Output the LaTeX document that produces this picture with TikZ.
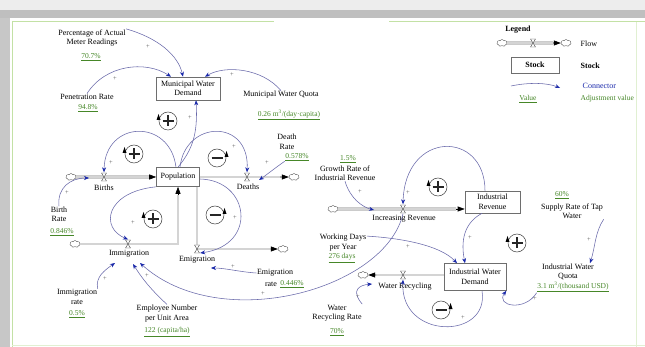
\documentclass[tikz,border=0pt]{standalone}
\usepackage{fontspec}
\setmainfont{Liberation Serif}
\usetikzlibrary{arrows.meta,shapes.symbols}
\definecolor{conncol}{RGB}{105,105,170}
\definecolor{arrcol}{RGB}{25,40,170}
\definecolor{valcol}{RGB}{70,135,40}
\definecolor{framegreen}{RGB}{195,225,165}
\definecolor{pipeedge}{RGB}{110,110,110}
\definecolor{pipefill}{RGB}{212,212,212}
\begin{document}
\begin{tikzpicture}[x=1pt,y=-1pt,
 lbl/.style={font=\fontsize{8}{9.5}\selectfont, align=center, inner sep=0.5pt, text=black},
 valtxt/.style={font=\fontsize{7.5}{9}\selectfont, text=valcol, inner sep=0.5pt},
 stockbox/.style={draw=pipeedge, line width=0.6pt, fill=white, align=center, font=\fontsize{8}{9.5}\selectfont, inner sep=1pt},
 conn/.style={draw=conncol, line width=0.55pt, -{Stealth[length=5pt,width=4pt,color=arrcol]}},
 sgn/.style={font=\fontsize{6.5}{6.5}\selectfont, text=black!65, inner sep=0pt},
 pipe/.style={draw=pipeedge, double=pipefill, double distance=1.8pt, line width=0.5pt},
 pipetip/.style={-{Triangle[length=7pt,width=5pt,color=black]}, draw=black, line width=0.6pt},
 cloudnode/.style={cloud, cloud puffs=7, cloud puff arc=110, aspect=1.5, draw=black!70, fill=white, line width=0.4pt, minimum width=10pt, minimum height=7pt, inner sep=0pt},
 valvebox/.style={inner sep=0pt, minimum width=6pt, minimum height=9pt},
 valvep/.pic={\draw[black!70, line width=0.4pt, fill=white] (-2.5,-4) -- (2.5,-4) -- (-2.5,4) -- (2.5,4) -- cycle;},
 lpos/.pic={
   \draw[black!75, line width=0.5pt] (0,0) circle[radius=9];
   \draw[black!85, line width=1.3pt] (-5.5,0) -- (5.5,0) (0,-5.5) -- (0,5.5);
   \fill[black] (-9.5,-7) -- (-11.5,-1) -- (-7.5,-1) -- cycle;},
 lneg/.pic={
   \draw[black!75, line width=0.5pt] (0,0) circle[radius=9];
   \draw[black!85, line width=1.3pt] (-5.5,0) -- (5.5,0);
   \fill[black] (9.5,-7) -- (7.5,-1) -- (11.5,-1) -- cycle;}
]
\useasboundingbox (0,0) rectangle (645,347);
% ---------- frame ----------
\fill[white] (0,0) rectangle (645,347);
\fill[black!7] (0,0) rectangle (645,10);
\fill[black!25] (0,10) rectangle (645,18);
\fill[black!22] (0,18) rectangle (10,347);
\draw[framegreen, line width=1pt] (12,22) -- (274,22) (389,22) -- (645,22) (12,22) -- (12,347);
\draw[framegreen!50, line width=0.8pt] (636,22) -- (636,347) (12,345) -- (645,345);

% ---------- stocks ----------
\node[stockbox, minimum width=64pt, minimum height=23pt] (mwd) at (188,88.5) {Municipal Water\\Demand};
\node[stockbox, minimum width=43pt, minimum height=19pt] (pop) at (178,177) {Population};
\node[stockbox, minimum width=55pt, minimum height=22pt] (ir) at (492.5,202) {Industrial\\Revenue};
\node[stockbox, minimum width=62pt, minimum height=27pt] (iwd) at (475,277) {Industrial Water\\Demand};
\node[stockbox, minimum width=48pt, minimum height=16pt, font=\fontsize{8}{9.5}\selectfont\bfseries] (legstock) at (535,65) {Stock};

% ---------- valves (invisible anchors) ----------
\node[valvebox] (vbir) at (104,177) {};
\node[valvebox] (vdea) at (247,177) {};
\node[valvebox] (vimm) at (128,244) {};
\node[valvebox] (vemi) at (197,249) {};
\node[valvebox] (vinc) at (403,209) {};
\node[valvebox] (vrec) at (403,275) {};
\node[valvebox] (vleg) at (533,43) {};

% ---------- clouds ----------
\node[cloudnode] (cbir) at (71,177) {};
\node[cloudnode] (cdea) at (294,177) {};
\node[cloudnode] (cimm) at (75,244) {};
\node[cloudnode] (cemi) at (283,249) {};
\node[cloudnode] (cinc) at (333,209) {};
\node[cloudnode] (crec) at (363,275) {};
\node[cloudnode] (cl1) at (502,43) {};
\node[cloudnode] (cl2) at (566,43) {};

% ---------- pipes ----------
\coordinate (birtip) at (149,177);
\draw[pipe] (cbir.east) -- (birtip);
\draw[pipetip] (birtip) -- (pop.west);
\coordinate (deatip) at (280,177);
\draw[pipe] (pop.east) -- (deatip);
\draw[pipetip] (deatip) -- (cdea.west);
\coordinate (immtip) at (178,195);
\draw[pipe] (cimm.east) -| (immtip);
\draw[pipetip] (immtip) -- (pop.south);
\coordinate (emitip) at (272,249);
\draw[pipe] (pop.south -| vemi) |- (emitip);
\draw[pipetip] (emitip) -- (cemi.west);
\coordinate (inctip) at (456,209);
\draw[pipe] (cinc.east) -- (inctip);
\draw[pipetip] (inctip) -- (ir.west |- inctip);
\coordinate (rectip) at (376,275);
\draw[pipe] (iwd.west |- vrec) -- (rectip);
\draw[pipetip] (rectip) -- (crec.east);
\coordinate (legtip) at (553,43);
\draw[pipe] (cl1.east) -- (legtip);
\draw[pipetip] (legtip) -- (cl2.west);
\foreach \v in {vbir,vdea,vimm,vemi,vinc,vrec,vleg} \pic at (\v) {valvep};

% ---------- flow labels ----------
\node[lbl] (lbir) at (104,188) {Births};
\node[lbl] (ldea) at (248,187) {Deaths};
\node[lbl] (limm) at (129,254) {Immigration};
\node[lbl] (lemi) at (197,260) {Emigration};
\node[lbl] (linc) at (404,219) {Increasing Revenue};
\node[lbl] (lrec) at (405,287) {Water Recycling};

% ---------- auxiliary variables ----------
\node[lbl] (pam) at (92,38) {Percentage of Actual\\Meter Readings};
\node[valtxt] (pamv) at (91,57) {\underline{70.7\%}};
\node[lbl] (pr) at (87,97) {Penetration Rate};
\node[valtxt] (prv) at (88,108) {\underline{94.8\%}};
\node[lbl] (mwq) at (281,95) {Municipal Water Quota};
\node[valtxt] (mwqv) at (289,115) {\underline{0.26 m\textsuperscript{3}/(day·capita)}};
\node[lbl] (br) at (59,214.5) {Birth\\Rate};
\node[valtxt] (brv) at (62,232) {\underline{0.846\%}};
\node[lbl] (dr) at (287,142) {Death\\Rate};
\node[valtxt] (drv) at (297,157) {\underline{0.578\%}};
\node[lbl] (emr) at (275,273) {Emigration};
\node[lbl] (emr2) at (271,284) {rate};
\node[valtxt] (emrv) at (292,284) {\underline{0.446\%}};
\node[lbl] (imr) at (77,297) {Immigration\\rate};
\node[valtxt] (imrv) at (77,314) {\underline{0.5\%}};
\node[lbl] (emp) at (167,313.5) {Employee Number\\per Unit Area};
\node[valtxt] (empv) at (167,332) {\underline{122 (capita/ha)}};
\node[valtxt] (griv) at (348,159) {\underline{1.5\%}};
\node[lbl] (gri) at (345,173) {Growth Rate of\\Industrial Revenue};
\node[lbl] (wd) at (343,242.5) {Working Days\\per Year};
\node[valtxt] (wdv) at (342,258) {\underline{276 days}};
\node[lbl] (wrr) at (337,313) {Water\\Recycling Rate};
\node[valtxt] (wrrv) at (337,332) {\underline{70\%}};
\node[valtxt] (srv) at (562,195) {\underline{60\%}};
\node[lbl] (sr) at (572,211) {Supply Rate of Tap\\Water};
\node[lbl] (iwq) at (568,272) {Industrial Water\\Quota};
\node[valtxt] (iwqv) at (573,287) {\underline{3.1 m\textsuperscript{3}/(thousand USD)}};

% ---------- connectors ----------
\coordinate (brend) at (89,178);
\coordinate (imrend) at (115,263);
\coordinate (empend) at (133,264);
\coordinate (invend) at (140,263);
\coordinate (griend) at (374,210);
\coordinate (wrrend) at (372,284);
\coordinate (drend) at (259,180);
\coordinate (emrend) at (211,268);
\draw[conn] (pam.15) .. controls (158,38) and (178,55) .. (mwd.north -| 183,0);
\draw[conn] (pr.north) .. controls (105,65) and (145,60) .. (mwd.north -| 171,0);
\draw[conn] (mwq.north) .. controls (262,68) and (225,65) .. (mwd.north -| 205,0);
\draw[conn] (pop.north) .. controls (192,150) and (198,135) .. (mwd.south -| 196,0);
\draw[conn] (pop.north -| 176,0) .. controls (170,118) and (105,120) .. (vbir.north);
\draw[conn] (pop.north -| 180,0) .. controls (185,120) and (250,118) .. (vdea.north);
\draw[conn] (pop.east |- 0,179) .. controls (250,180) and (258,245) .. (vemi.east |- 0,253) ;
\draw[conn] (pop.south west) .. controls (105,192) and (100,228) .. (vimm.north);
\draw[conn] (br.north) .. controls (57,188) and (70,178) .. (brend);
\draw[conn] (drv.south west) .. controls (275,168) and (265,176) .. (drend);
\draw[conn] (emr.west) .. controls (240,272) and (225,268) .. (emrend);
\draw[conn] (imr.north east) .. controls (95,277) and (105,270) .. (imrend);
\draw[conn] (emp.north) .. controls (148,287) and (140,275) .. (empend);
\draw[conn] (vinc.south) .. controls (385,290) and (220,335) .. (invend);
\draw[conn] (gri.south) .. controls (350,198) and (362,207) .. (griend);
\draw[conn] (ir.north -| 485,0) .. controls (485,130) and (405,130) .. (vinc.north);
\draw[conn] (wd.15) .. controls (400,238) and (440,245) .. (iwd.north -| 457,0);
\draw[conn] (ir.south -| 482,0) .. controls (460,225) and (462,248) .. (iwd.north -| 465,0);
\draw[conn] (sr.south east) .. controls (595,232) and (595,248) .. (iwq.north -| 590,0);
\draw[conn] (iwqv.south west) .. controls (525,312) and (495,306) .. (iwd.south east);
\draw[conn] (iwd.south -| 482,0) .. controls (490,340) and (400,340) .. (vrec.south);
\draw[conn] (wrr.north east) .. controls (350,290) and (360,285) .. (wrrend);

% ---------- polarity signs ----------
\foreach \p in {(148,47),(115,79),(232,75),(190,118),(111,163),(234,147),(67,193),(267,163),
  (133,223),(235,218),(233,267),(105,279),(147,276),(263,294),(360,192),(408,193),(408,247),
  (470,238),(589,240),(535,299),(358,297),(463,318)} \node[sgn] at \p {+};

% ---------- loop symbols ----------
\pic at (168,121) {lpos};
\pic at (134,154) {lpos};
\pic at (217,158) {lneg};
\pic at (153,219) {lpos};
\pic at (215,215) {lneg};
\pic at (438,187) {lpos};
\pic at (517,243) {lpos};
\pic at (441,310) {lneg};

% ---------- legend ----------
\node[lbl, font=\fontsize{8}{9.5}\selectfont\bfseries] (leg) at (518,30) {Legend};
\node[lbl, anchor=west] (legflow) at (580,44) {Flow};
\node[lbl, anchor=west, font=\fontsize{8}{9.5}\selectfont\bfseries] (legst) at (580,66) {Stock};
\node[lbl, anchor=west, text=arrcol] (legcon) at (582,86) {Connector};
\node[valtxt] (legval) at (528,99) {\underline{Value}};
\node[valtxt, anchor=west] (legadj) at (580,99) {Adjustment value};
\coordinate (legc1) at (511,86);
\coordinate (legc2) at (560,88);
\draw[conn] (legc1) .. controls (530,82) and (548,83) .. (legc2);
\end{tikzpicture}
\end{document}
